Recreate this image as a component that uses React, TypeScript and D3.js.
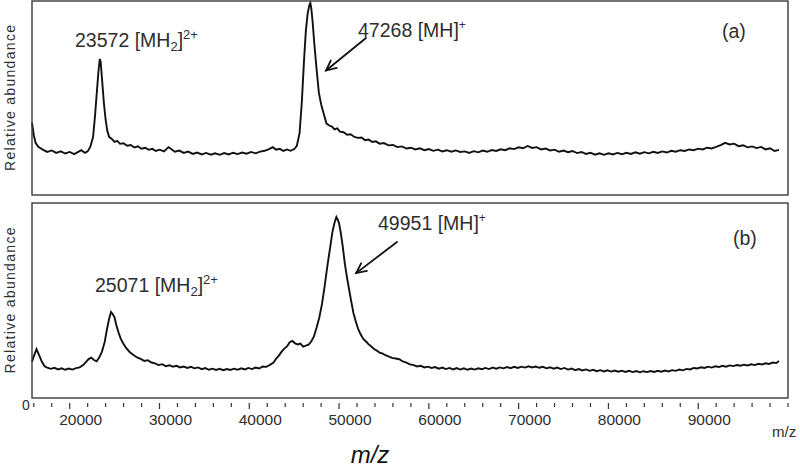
import React from "react";
import * as d3 from "d3";

// ---- data: spectrum (a) [m/z, relative abundance] ----
const spectrumA: [number, number][] = [
  [15800, 37.5], [16000, 31], [16200, 27], [16500, 25], [17000, 23.5], [17500, 22.3], [18000, 23.1], [18500, 21.8],
  [19000, 22.6], [19500, 21.5], [20000, 22.3], [20500, 21.2], [21000, 22.5], [21300, 23.2], [21700, 21.8], [22000, 22.6],
  [22300, 25], [22600, 30], [22800, 40], [23000, 52], [23200, 64], [23350, 70.5], [23450, 69], [23600, 60],
  [23800, 48], [24000, 39], [24200, 33], [24400, 30], [24700, 29], [25000, 27.5], [25300, 28], [25600, 26.5],
  [26000, 26.8], [26400, 25.5], [26800, 25.9], [27200, 24.6], [27600, 25.2], [28000, 24], [28400, 24.5], [28800, 23.4],
  [29200, 23.9], [29600, 22.8], [30000, 23.5], [30500, 22.6], [31000, 24.8], [31300, 23.8], [31700, 22.4], [32200, 23],
  [32700, 21.8], [33200, 22.5], [33700, 21.3], [34200, 22], [34700, 21], [35200, 21.8], [35700, 20.9], [36200, 21.6],
  [36700, 20.8], [37200, 21.7], [37700, 21], [38200, 21.9], [38700, 21.2], [39200, 22], [39700, 21.4], [40200, 22.3],
  [40700, 21.6], [41200, 22.5], [41700, 22.9], [42200, 23.8], [42600, 24.8], [43000, 23.5], [43400, 23.9], [43800, 22.8],
  [44200, 23.6], [44600, 22.9], [45000, 23.8], [45300, 25.5], [45600, 32], [45850, 48], [46100, 70], [46300, 85],
  [46500, 94], [46700, 98.5], [46800, 99.5], [46900, 97], [47050, 90], [47250, 78], [47500, 65], [47750, 53],
  [48000, 47], [48300, 42], [48600, 37], [48900, 36], [49200, 35.5], [49500, 34], [49800, 34.5], [50100, 32.8],
  [50500, 32.5], [50900, 31.2], [51300, 31.5], [51700, 30.1], [52100, 29.6], [52500, 29.8], [52900, 28.4], [53300, 28.7],
  [53700, 27.5], [54100, 27.8], [54500, 26.6], [55000, 26.9], [55500, 25.7], [56000, 25.9], [56500, 24.8], [57000, 25.2],
  [57500, 24.1], [58000, 24.5], [58500, 23.6], [59000, 24.2], [59500, 23.2], [60000, 23.8], [60500, 22.9], [61000, 23.5],
  [61500, 22.6], [62000, 23.2], [62500, 22.4], [63000, 23.1], [63500, 22.3], [64000, 22.6], [64500, 21.8], [65000, 22.7],
  [65500, 22.1], [66000, 23], [66500, 22.4], [67000, 23.3], [67500, 22.8], [68000, 23.7], [68500, 23.2], [69000, 24.2],
  [69500, 23.8], [70000, 24.7], [70500, 24.2], [71000, 25.4], [71500, 24.4], [72000, 24.8], [72500, 23.6], [73000, 24.1],
  [73500, 23.1], [74000, 23.5], [74500, 22.4], [75000, 23], [75500, 22.2], [76000, 22.8], [76500, 21.7], [77000, 22.3],
  [77500, 21.3], [78000, 21.9], [78500, 20.9], [79000, 21.6], [79500, 20.8], [80000, 21.6], [80500, 21], [81000, 21.8],
  [81500, 21.1], [82000, 21.9], [82500, 21.3], [83000, 22.1], [83500, 21.4], [84000, 22.2], [84500, 21.6], [85000, 22.4],
  [85500, 21.8], [86000, 22.6], [86500, 22], [87000, 22.9], [87500, 22.4], [88000, 23.2], [88500, 22.8], [89000, 23.6],
  [89500, 23.2], [90000, 24], [90500, 23.6], [91000, 24.5], [91500, 24.1], [92000, 24.9], [92500, 25.8], [93000, 27],
  [93500, 26.2], [94000, 26.6], [94500, 25.3], [95000, 25.8], [95500, 24.7], [96000, 25.2], [96500, 24.3], [97000, 24.9],
  [97500, 23.6], [98000, 24.2], [98500, 22.8], [99000, 23.4],
];

// ---- data: spectrum (b) [m/z, relative abundance] ----
const spectrumB: [number, number][] = [
  [15800, 20], [16000, 23], [16300, 27], [16600, 23.5], [16900, 20], [17200, 17.5], [17500, 16.8], [17900, 16.1],
  [18300, 16.7], [18700, 15.8], [19100, 16.4], [19500, 15.6], [19900, 16.3], [20300, 15.7], [20700, 16.5], [21100, 16.9],
  [21500, 18.2], [21800, 19.8], [22100, 21.5], [22400, 22.3], [22700, 21], [23000, 20.3], [23300, 22.5], [23600, 25.8],
  [23900, 31], [24150, 38], [24400, 44], [24600, 47.5], [24800, 46.3], [25000, 44.5], [25200, 40], [25450, 36],
  [25700, 32.5], [26000, 29.8], [26300, 27.5], [26700, 25.3], [27100, 23.8], [27500, 22.4], [27900, 21.6], [28300, 20.5],
  [28700, 20.9], [29100, 19.6], [29500, 19.1], [29900, 18.2], [30300, 18.7], [30700, 17.6], [31100, 18.1], [31500, 17.3],
  [31900, 17.8], [32300, 16.9], [32700, 17.4], [33100, 16.6], [33500, 17.2], [33900, 16.4], [34300, 16.9], [34700, 15.9],
  [35100, 16.5], [35500, 15.6], [35900, 16.2], [36300, 15.5], [36700, 16.1], [37100, 15.4], [37500, 16], [37900, 15.5],
  [38300, 16.2], [38700, 15.6], [39100, 16.4], [39500, 15.8], [39900, 16.6], [40300, 16], [40700, 16.8], [41100, 16.3],
  [41500, 17.4], [41900, 17.2], [42300, 18.3], [42700, 19.6], [43000, 21.8], [43300, 23.4], [43600, 25.6], [43900, 27.3],
  [44200, 28.5], [44500, 30.8], [44800, 31.5], [45100, 30.2], [45400, 29.6], [45700, 30.1], [46000, 28.4], [46300, 28.9],
  [46600, 29.5], [46900, 31.2], [47200, 34], [47500, 39], [47800, 44.5], [48100, 52], [48400, 62], [48700, 73],
  [49000, 83], [49250, 91.5], [49500, 97], [49700, 100], [49850, 98.5], [50000, 96.5], [50200, 91], [50400, 84],
  [50650, 74], [50900, 66], [51100, 60.5], [51350, 53.5], [51600, 47], [51850, 42.5], [52100, 38.5], [52400, 35.2],
  [52700, 32.6], [53000, 31.2], [53300, 29.6], [53600, 28.4], [53900, 27.1], [54200, 26.2], [54500, 25.1], [54800, 24.6],
  [55100, 23.8], [55500, 23], [55900, 22.2], [56300, 21.8], [56700, 21.4], [57100, 20.2], [57500, 19.5], [57900, 18.6],
  [58300, 18.2], [58700, 17.4], [59100, 17.8], [59500, 16.9], [59900, 17.3], [60300, 16.6], [60700, 17.1], [61100, 16.2],
  [61500, 16.8], [61900, 16], [62300, 16.6], [62700, 15.8], [63100, 16.5], [63500, 15.7], [63900, 16.4], [64300, 15.6],
  [64700, 16.3], [65100, 15.7], [65500, 16.4], [65900, 15.9], [66300, 16.6], [66700, 16], [67100, 16.8], [67500, 16.2],
  [67900, 16.9], [68300, 16.4], [68700, 17.1], [69100, 16.5], [69500, 17.2], [69900, 16.6], [70300, 17.3], [70700, 16.8],
  [71100, 17.5], [71500, 16.9], [71900, 17.4], [72300, 16.7], [72700, 17.2], [73100, 16.4], [73500, 17], [73900, 16.2],
  [74300, 16.8], [74700, 16], [75100, 16.6], [75500, 15.7], [75900, 16.3], [76300, 15.4], [76700, 16], [77100, 15.2],
  [77500, 15.8], [77900, 15], [78300, 15.6], [78700, 14.8], [79100, 15.4], [79500, 14.7], [79900, 15.3], [80300, 14.6],
  [80700, 15.2], [81100, 14.5], [81500, 15.1], [81900, 14.4], [82300, 15], [82700, 14.3], [83100, 14.9], [83500, 14.2],
  [83900, 14.8], [84300, 14.3], [84700, 14.9], [85100, 14.4], [85500, 15], [85900, 14.5], [86300, 15.2], [86700, 14.7],
  [87100, 15.4], [87500, 15], [87900, 15.7], [88300, 15.3], [88700, 16.1], [89100, 15.8], [89500, 16.6], [89900, 16.3],
  [90300, 17], [90700, 16.6], [91100, 17.3], [91500, 16.8], [91900, 17.5], [92300, 17.1], [92700, 17.8], [93100, 17.3],
  [93500, 18], [93900, 17.6], [94300, 18.2], [94700, 17.8], [95100, 18.4], [95500, 18], [95900, 18.6], [96300, 18.2],
  [96700, 18.9], [97100, 18.5], [97500, 19.2], [97900, 18.8], [98300, 19.6], [98700, 19.3], [99000, 20.5],
];

const majorTicks = [20000, 30000, 40000, 50000, 60000, 70000, 80000, 90000];
const minorTicks = [16000, 18000, 22000, 24000, 26000, 28000, 32000, 34000, 36000, 38000, 42000, 44000, 46000, 48000,
  52000, 54000, 56000, 58000, 62000, 64000, 66000, 68000, 72000, 74000, 76000, 78000, 82000, 84000, 86000, 88000,
  92000, 94000, 96000, 98000, 100000];
const panelLabels = ["(a)", "(b)"];
const dimerLabels = ["23572", "25071"];
const monomerLabels = ["47268", "49951"];

const FONT = "'Liberation Sans', Arial, Helvetica, sans-serif";
const TEXT = "#2e2e2e";

export default function App() {
  const W = 800, H = 469;
  const left = 32, right = 788;
  const x = d3.scaleLinear().domain([15800, 100000]).range([left, right]);
  const panels = [
    { top: 1, bottom: 195, peakY: 2, data: spectrumA },
    { top: 203, bottom: 398, peakY: 217, data: spectrumB },
  ];

  const lineFor = (y: d3.ScaleLinear<number, number>) =>
    d3.line<[number, number]>().x((d) => x(d[0])).y((d) => y(d[1]));

  // annotation anchors (data-space arrow tips)
  const arrowTips = [
    { mz: 48550, i: 64.5 },
    { mz: 51900, i: 69 },
  ];

  const arrow = (x1: number, y1: number, x2: number, y2: number, key: string) => {
    const ang = Math.atan2(y2 - y1, x2 - x1);
    const L = 11, spread = 0.45;
    const a1x = x2 - L * Math.cos(ang - spread), a1y = y2 - L * Math.sin(ang - spread);
    const a2x = x2 - L * Math.cos(ang + spread), a2y = y2 - L * Math.sin(ang + spread);
    return (
      <g key={key} stroke="#111" strokeWidth={1.8} fill="none" strokeLinecap="round">
        <line x1={x1} y1={y1} x2={x2} y2={y2} />
        <polyline points={`${a1x},${a1y} ${x2},${y2} ${a2x},${a2y}`} />
      </g>
    );
  };

  return (
    <svg width={W} height={H} style={{ position: "absolute", left: 0, top: 0, background: "#fff" }}
      fontFamily={FONT}>
      <rect x={0} y={0} width={W} height={H} fill="#fff" />
      {panels.map((p, idx) => {
        const y = d3.scaleLinear().domain([0, 100]).range([p.bottom, p.peakY]);
        const tip = arrowTips[idx];
        const tx = x(tip.mz), ty = y(tip.i);
        const mid = (p.top + p.bottom) / 2;
        return (
          <g key={idx}>
            <path d={lineFor(y)(p.data) || ""} fill="none" stroke="#111" strokeWidth={1.9}
              strokeLinejoin="miter" />
            <rect x={left} y={p.top} width={right - left} height={p.bottom - p.top} fill="none"
              stroke="#3a3a3a" strokeWidth={1.4} />
            <text transform={`translate(15,${mid}) rotate(-90)`} textAnchor="middle" fontSize={14}
              fill={TEXT} textLength={146} lengthAdjust="spacing">Relative abundance</text>
            <text x={idx === 0 ? 722 : 733} y={idx === 0 ? 38 : 245} fontSize={19.5} fill={TEXT}>{panelLabels[idx]}</text>
            {/* dimer label */}
            <text x={idx === 0 ? 75 : 95} y={idx === 0 ? 47 : 292} fontSize={19.5} fill={TEXT}>
              {dimerLabels[idx]} [MH<tspan fontSize={13} dy={4}>2</tspan><tspan dy={-4}>]</tspan>
              <tspan fontSize={13} dy={-8}>2+</tspan>
            </text>
            {/* monomer label */}
            <text x={idx === 0 ? 358 : 378} y={idx === 0 ? 37 : 230} fontSize={19.5} fill={TEXT}>
              {monomerLabels[idx]} [MH]<tspan fontSize={12} dy={-8}>+</tspan>
            </text>
            {arrow(idx === 0 ? 366 : 397, idx === 0 ? 38 : 242, tx, ty, `ar${idx}`)}
          </g>
        );
      })}
      {/* x axis */}
      <g stroke="#333" strokeWidth={1.2}>
        {minorTicks.map((t) => (
          <line key={`mi${t}`} x1={x(t)} x2={x(t)} y1={403} y2={407} />
        ))}
        {majorTicks.map((t) => (
          <line key={`ma${t}`} x1={x(t)} x2={x(t)} y1={403} y2={409} />
        ))}
      </g>
      {majorTicks.map((t) => (
        <text key={`lb${t}`} x={x(t) + 11} y={425} textAnchor="middle" fontSize={15.5} fill={TEXT}>{t}</text>
      ))}
      <text x={22} y={410} fontSize={14} fill={TEXT}>0</text>
      <text x={772} y={437} fontSize={15} fill={TEXT}>m/z</text>
      <text x={370} y={463} textAnchor="middle" fontSize={24} fontStyle="italic" fill="#111">m/z</text>
    </svg>
  );
}
